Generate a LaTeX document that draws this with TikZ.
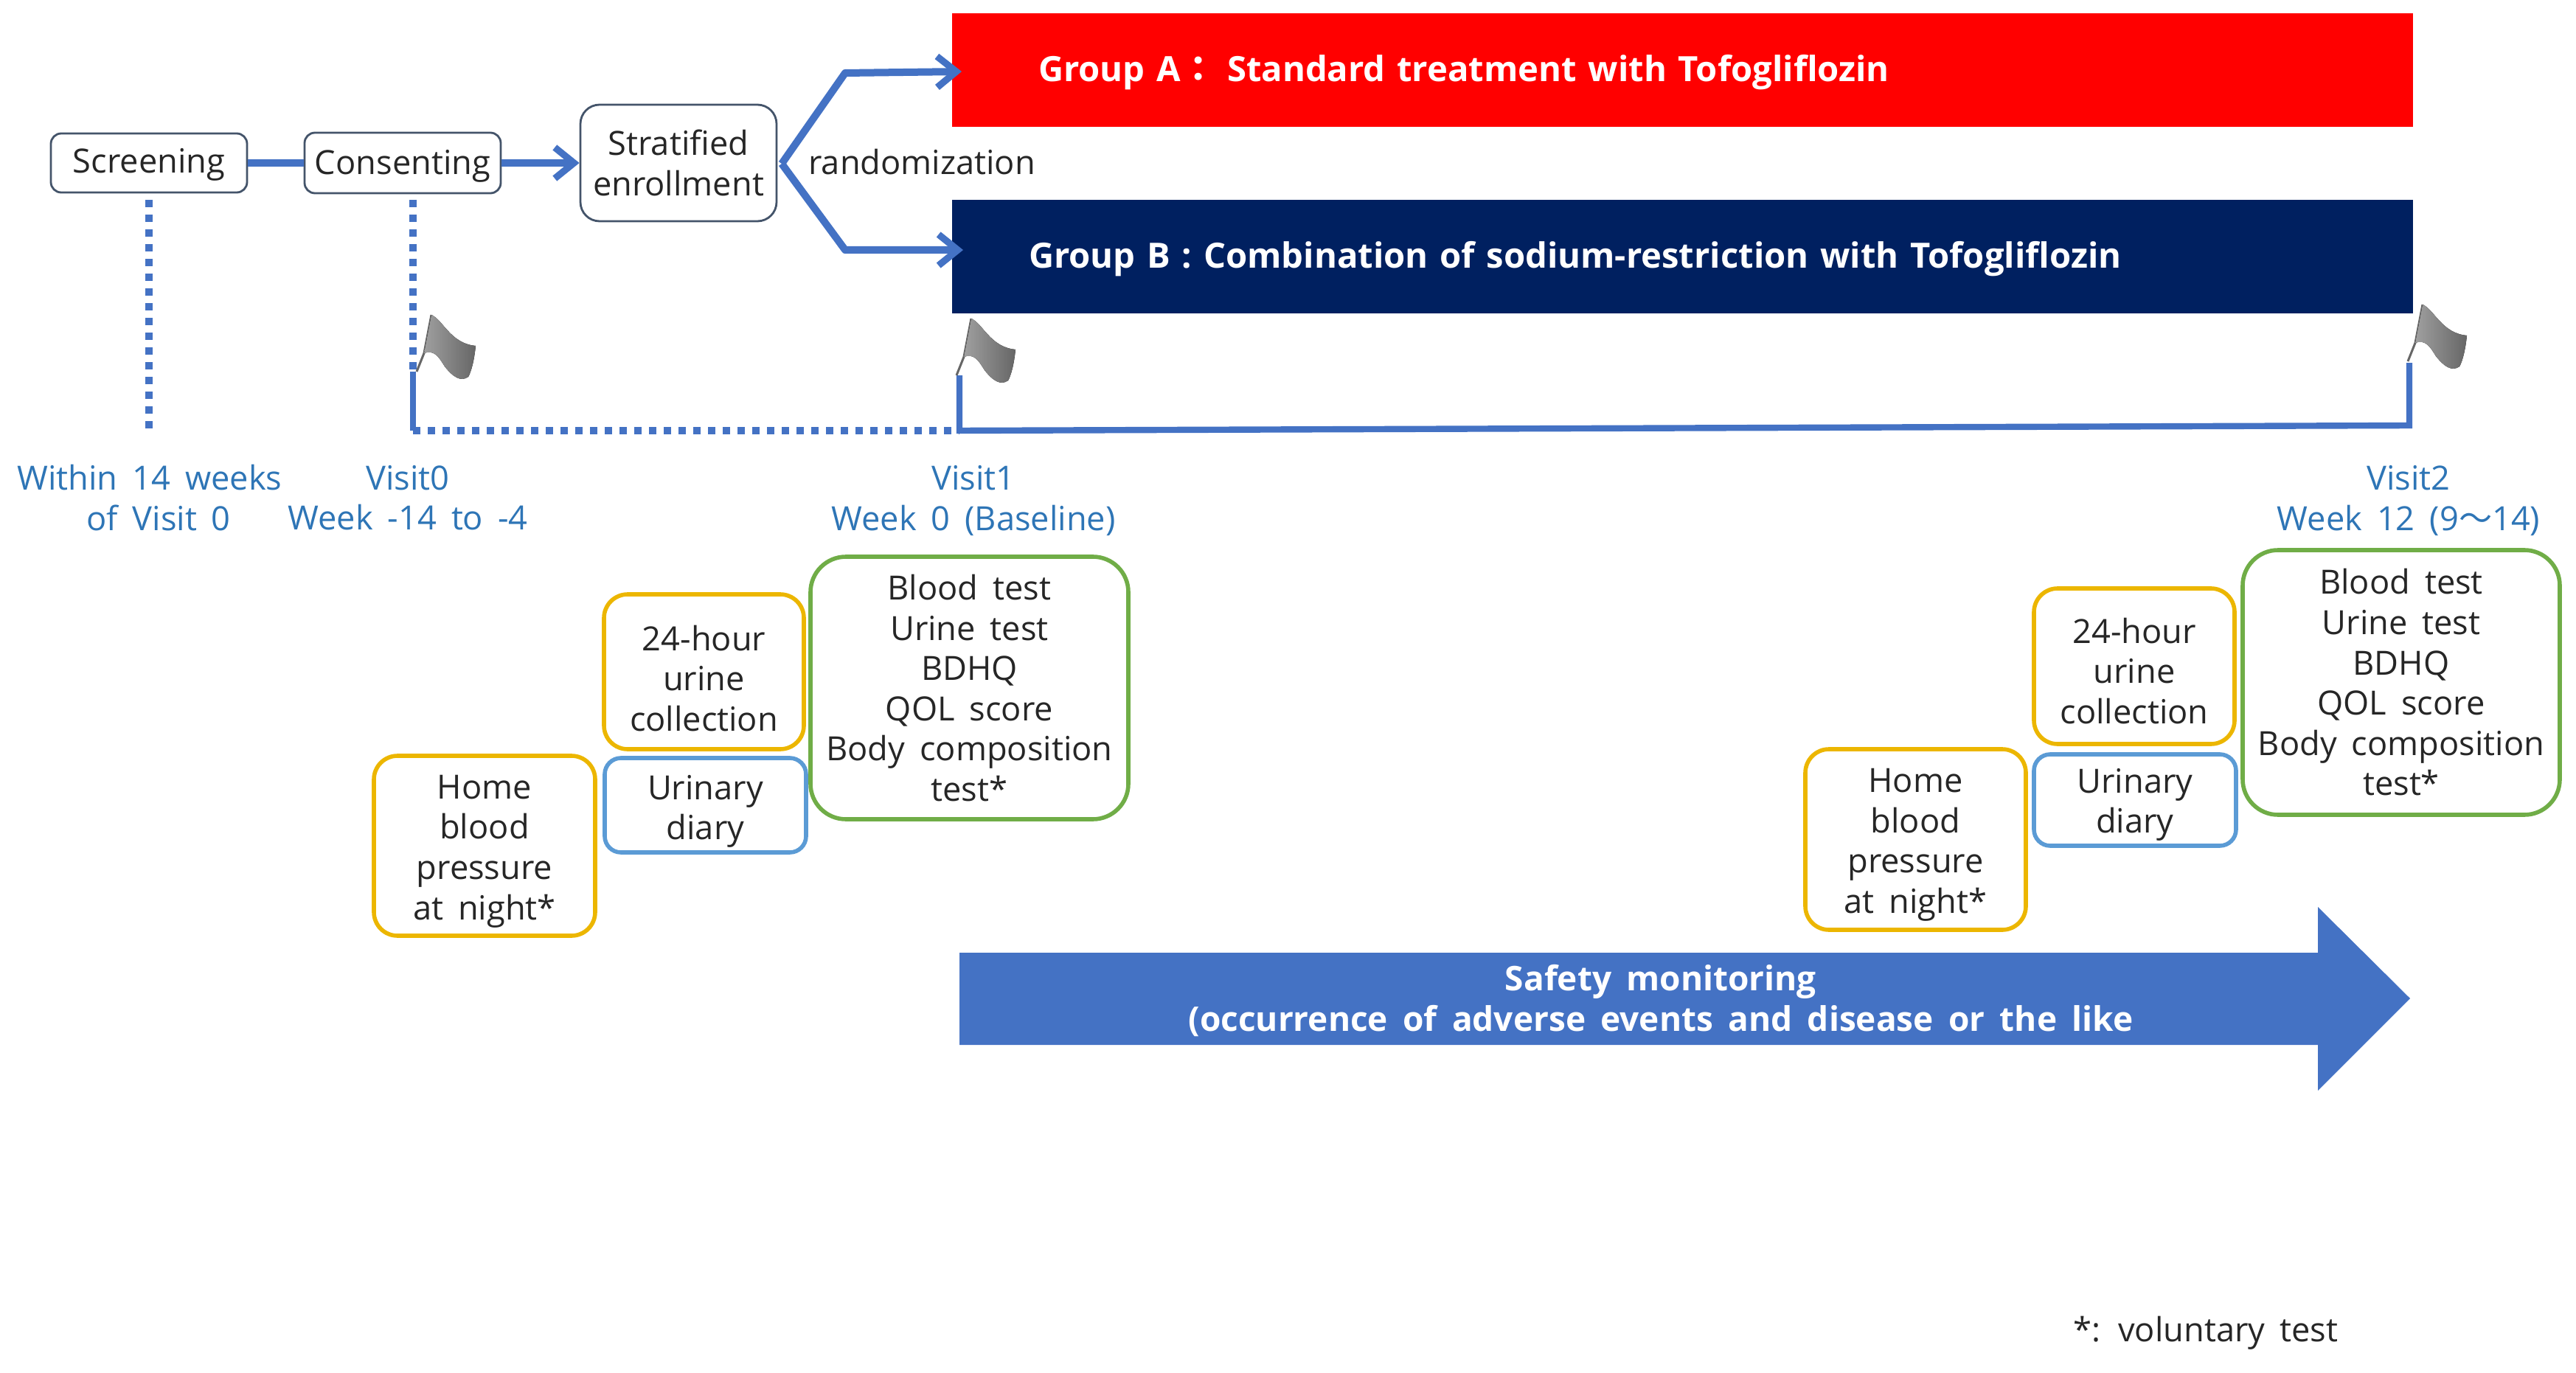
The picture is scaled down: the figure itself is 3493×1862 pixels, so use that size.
\documentclass[tikz,border=0pt]{standalone}
\usepackage{fontspec}
\setmainfont[WordSpace=1.7]{Open Sans}
\newfontfamily\cjkfont{Noto Sans CJK JP}
\usetikzlibrary{arrows.meta}
\definecolor{lineblue}{HTML}{4472C4}
\definecolor{textblue}{HTML}{2E75B6}
\definecolor{boxgreen}{HTML}{70AD47}
\definecolor{boxyellow}{HTML}{FFC000}
\definecolor{boxblue}{HTML}{5B9BD5}
\definecolor{boxdark}{HTML}{44546A}
\definecolor{navyband}{HTML}{002060}
\newcommand{\boxat}[7]{% name, x0, y0, x1, y1, style, text
  \node[#6,minimum width={(#4-#2)*0.5pt},minimum height={(#5-#3)*0.5pt}] (#1) at ({(#2+#4)/2},{(#3+#5)/2}) {#7};}
% lowers a centred text by #1 inside its box
\newcommand{\dn}[1]{\rule{0pt}{\dimexpr 17pt+2\dimexpr #1\relax\relax}}
\tikzset{
  x=0.5pt,y=-0.5pt,
  basefont/.style={font=\fontsize{22.6}{27.3}\selectfont},
  flow/.style={basefont,draw=boxdark,line width=1.4pt,rounded corners=7pt,fill=white,align=center,inner sep=0pt,text=black!85},
  checkbox/.style={basefont,line width=2.8pt,rounded corners=16pt,fill=white,align=center,inner sep=0pt,text=black!85},
  yellowbox/.style={checkbox,draw=boxyellow!85!olive},
  bluebox/.style={checkbox,draw=boxblue,rounded corners=11pt},
  greenbox/.style={checkbox,draw=boxgreen,rounded corners=24pt},
  bluetext/.style={basefont,text=textblue,inner sep=0pt,align=center},
  plain/.style={basefont,text=black!85,inner sep=0pt,align=center},
  grouplabel/.style={font=\fontsize{23.6}{27}\selectfont\bfseries,text=white,inner ysep=0pt,align=left,anchor=center},
  flowline/.style={draw=lineblue,line width=5pt,line join=round},
  flowarrow/.style={flowline,-{Straight Barb[length=13pt,width=21pt,line width=4.6pt]}},
  dottedline/.style={draw=lineblue,line width=4.6pt,dash pattern=on 5.2pt off 4.8pt},
  solidline/.style={draw=lineblue,line width=4.2pt},
  flagshape/.style={left color=gray!75,right color=black!60},
  flagpole/.style={draw=gray!80!black,line width=1.5pt},
}
\newcommand{\flagat}[1]{%
  \begin{scope}[shift={(#1)}]
  \draw[flagpole] (0,0) -- (10,-25) -- (20,-77);
  \fill[flagshape] (20,-77) .. controls (36,-70) and (46,-38) .. (80,-35)
     .. controls (78,-15) and (74,0) .. (70,7)
     .. controls (60,14) and (50,8) .. (38,-7)
     .. controls (30,-20) and (24,-30) .. (10,-25) -- cycle;
  \end{scope}}
\begin{document}
\begin{tikzpicture}
\useasboundingbox (0,0) rectangle (3493,1862);
% flow boxes
\boxat{screening}{69}{181}{335}{261}{flow}{\dn{1pt}Screening}
\boxat{consenting}{413}{180}{679}{262}{flow}{\dn{2pt}Consenting}
\boxat{stratified}{787}{142}{1053}{300}{flow,rounded corners=13pt}{Stratified\\enrollment}
\node[plain,anchor=west] (rand) at (1096,220) {randomization};
% groups
\node[grouplabel,fill=red,minimum width=990.5pt,minimum height=77pt,inner xsep=58.5pt,text width={990.5pt-117pt}] (groupA) at (2281.5,95) {\dn{2pt}Group A{\cjkfont ：} Standard treatment with Tofogliflozin};
\node[grouplabel,fill=navyband,minimum width=990.5pt,minimum height=77pt,inner xsep=52pt,text width={990.5pt-104pt}] (groupB) at (2281.5,348) {\dn{2pt}Group B : Combination of sodium-restriction with Tofogliflozin};
% coordinates
\coordinate (fork) at (1060,222);
\coordinate (forkA) at (1146,99);
\coordinate (forkB) at (1146,339);
\coordinate (tipA) at (1304,97);
\coordinate (tipB) at (1306,339);
\coordinate (scrTop) at (202,271);
\coordinate (scrEnd) at (202,589);
\coordinate (conTop) at (560,271);
\coordinate (conMid) at (560,504);
\coordinate (conEnd) at (560,584);
\coordinate (v1Top) at (1301,509);
\coordinate (v1End) at (1301,584);
\coordinate (v2Top) at (3267,492);
\coordinate (v2End) at (3267,577);
% arrows
\draw[flowline] (screening.east) -- (consenting.west);
\draw[flowarrow] (consenting.east) -- (stratified.west);
\draw[flowarrow] (fork) -- (forkA) -- (tipA);
\draw[flowarrow] (fork) -- (forkB) -- (tipB);
% timeline
\draw[dottedline] (scrTop) -- (scrEnd);
\draw[dottedline] (conTop) -- (conMid);
\draw[dottedline] (conEnd) -- (v1End);
\draw[solidline] (conMid) -- (conEnd);
\draw[solidline] (v1Top) -- (v1End) -- (v2End) -- (v2Top);
\flagat{565,504}
\flagat{1297,509}
\flagat{3265,490}
% visit labels
\node[bluetext] (within) at (203,675) {Within 14 weeks\\\hspace*{12pt}of Visit 0};
\node[bluetext] (visit0) at (553,675) {Visit0\\Week -14 to -4};
\node[bluetext] (visit1) at (1320,679) {Visit1\\Week 0 (Baseline)};
\node[bluetext] (visit2) at (3266,679) {Visit2\\Week 12 (9{\cjkfont ～}14)};
% left checks
\boxat{greenL}{1099}{755}{1530}{1111}{greenbox}{Blood test\\Urine test\\BDHQ\\QOL score\\Body composition\\test*}
\boxat{yellowL}{819}{806}{1090}{1016}{yellowbox}{\dn{4.5pt}24-hour\\urine\\collection}
\boxat{blueL}{820}{1028}{1093}{1156}{bluebox}{\dn{4pt}Urinary\\diary}
\boxat{homeL}{507}{1025}{807}{1269}{yellowbox}{\dn{3.3pt}Home\\blood\\pressure\\at night*}
% right checks
\boxat{greenR}{3041}{746}{3471}{1105}{greenbox}{Blood test\\Urine test\\BDHQ\\QOL score\\Body composition\\test*}
\boxat{yellowR}{2758}{798}{3030}{1009}{yellowbox}{\dn{3.3pt}24-hour\\urine\\collection}
\boxat{blueR}{2758}{1023}{3032}{1147}{bluebox}{\dn{3pt}Urinary\\diary}
\boxat{homeR}{2448}{1016}{2747}{1261}{yellowbox}{\dn{3.3pt}Home\\blood\\pressure\\at night*}
% safety arrow
\fill[lineblue] (1301,1292) -- (3143,1292) -- (3143,1230) -- (3268,1354) -- (3143,1479) -- (3143,1417) -- (1301,1417) -- cycle;
\node[font=\fontsize{23}{27.3}\selectfont\bfseries,text=white,align=center,inner sep=0pt] (safety) at (2252,1357) {Safety monitoring\\(occurrence of adverse events and disease or the like};
\node[plain,anchor=west] (note) at (2811,1808) {*: voluntary test};
\end{tikzpicture}
\end{document}
